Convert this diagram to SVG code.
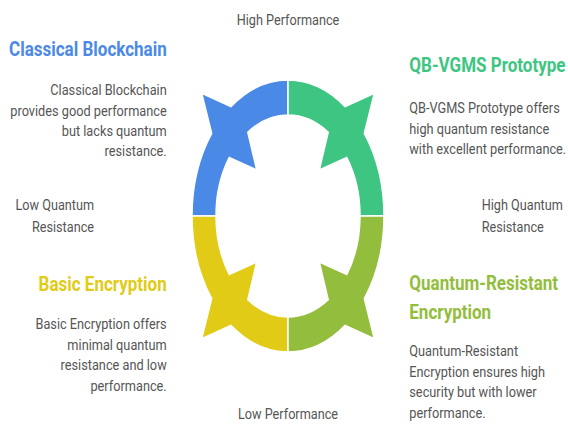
<svg xmlns="http://www.w3.org/2000/svg" width="568" height="426" viewBox="0 0 568 426">
<style>
  text { font-family: Roboto, "Liberation Sans", sans-serif; }
  .title { font-size: 20.5px; font-weight: bold; }
  .body { font-size: 15px; fill: #555555; }
  .axis { font-size: 15px; fill: #555555; }
  .end { text-anchor: end; }
  .mid { text-anchor: middle; }
  .seg { stroke: #ffffff; stroke-width: 1.5; stroke-linejoin: miter; }
</style>
<rect width="568" height="426" fill="#ffffff"/>

<g id="ring">
  <path id="seg-classical" class="seg" fill="#4a89e6" d="M 288 80 A 96 136 0 0 0 230.9 106.7 L 201.7 93.3 L 211.7 133.4 A 96 136 0 0 0 192 216 L 216 216 A 72 101 0 0 1 229.2 157.6 L 256.7 170 L 247.8 132.2 A 72 101 0 0 1 288 115 Z"/>
  <path id="seg-qbvgms" class="seg" fill="#3ec582" d="M 288 80 A 96 136 0 0 1 345.1 106.7 L 374.3 93.3 L 364.3 133.4 A 96 136 0 0 1 384 216 L 360 216 A 72 101 0 0 0 346.8 157.6 L 319.3 170 L 328.2 132.2 A 72 101 0 0 0 288 115 Z"/>
  <path id="seg-basic" class="seg" fill="#e1cb16" d="M 288 352 A 96 136 0 0 1 230.9 325.3 L 201.7 338.7 L 211.7 298.6 A 96 136 0 0 1 192 216 L 216 216 A 72 101 0 0 0 229.2 274.4 L 256.7 262 L 247.8 299.8 A 72 101 0 0 0 288 317 Z"/>
  <path id="seg-qr" class="seg" fill="#93bd3c" d="M 288 352 A 96 136 0 0 0 345.1 325.3 L 374.3 338.7 L 364.3 298.6 A 96 136 0 0 0 384 216 L 360 216 A 72 101 0 0 1 346.8 274.4 L 319.3 262 L 328.2 299.8 A 72 101 0 0 1 288 317 Z"/>
</g>

<g id="axis-labels">
  <g transform="matrix(0.845 0 0 1 288 0)">
    <text class="axis mid" x="0" y="25.5">High Performance</text>
    <text class="axis mid" x="0" y="419.5">Low Performance</text>
  </g>
  <g transform="matrix(0.845 0 0 1 94 0)">
    <text class="axis end" x="0" y="210.5">Low Quantum</text>
    <text class="axis end" x="0" y="232.3">Resistance</text>
  </g>
  <g transform="matrix(0.845 0 0 1 481.7 0)">
    <text class="axis" x="0" y="210.5">High Quantum</text>
    <text class="axis" x="0" y="232.3">Resistance</text>
  </g>
</g>

<g id="node-classical">
  <g transform="matrix(0.83 0 0 1 166.7 0)">
    <text class="title end" fill="#4a89e6" x="0" y="56">Classical Blockchain</text>
  </g>
  <g transform="matrix(0.85 0 0 1 166.7 0)">
    <text class="body end" x="0" y="95.5">Classical Blockchain</text>
    <text class="body end" x="0" y="115.8">provides good performance</text>
    <text class="body end" x="0" y="136">but lacks quantum</text>
    <text class="body end" x="0" y="156.5">resistance.</text>
  </g>
</g>

<g id="node-qbvgms">
  <g transform="matrix(0.83 0 0 1 409.3 0)">
    <text class="title" fill="#3ec582" x="0" y="71.7">QB-VGMS Prototype</text>
  </g>
  <g transform="matrix(0.85 0 0 1 409.3 0)">
    <text class="body" x="0" y="113.5">QB-VGMS Prototype offers</text>
    <text class="body" x="0" y="134">high quantum resistance</text>
    <text class="body" x="0" y="154.5">with excellent performance.</text>
  </g>
</g>

<g id="node-basic">
  <g transform="matrix(0.83 0 0 1 166.7 0)">
    <text class="title end" fill="#e1cb16" x="0" y="291">Basic Encryption</text>
  </g>
  <g transform="matrix(0.85 0 0 1 166.7 0)">
    <text class="body end" x="0" y="329">Basic Encryption offers</text>
    <text class="body end" x="0" y="349.7">minimal quantum</text>
    <text class="body end" x="0" y="370.5">resistance and low</text>
    <text class="body end" x="0" y="391.3">performance.</text>
  </g>
</g>

<g id="node-qr">
  <g transform="matrix(0.83 0 0 1 409.3 0)">
    <text class="title" fill="#93bd3c" x="0" y="290">Quantum-Resistant</text>
    <text class="title" fill="#93bd3c" x="0" y="319.3">Encryption</text>
  </g>
  <g transform="matrix(0.85 0 0 1 409.3 0)">
    <text class="body" x="0" y="356.5">Quantum-Resistant</text>
    <text class="body" x="0" y="377">Encryption ensures high</text>
    <text class="body" x="0" y="397.5">security but with lower</text>
    <text class="body" x="0" y="418.3">performance.</text>
  </g>
</g>

<g id="connectors"></g>
</svg>
